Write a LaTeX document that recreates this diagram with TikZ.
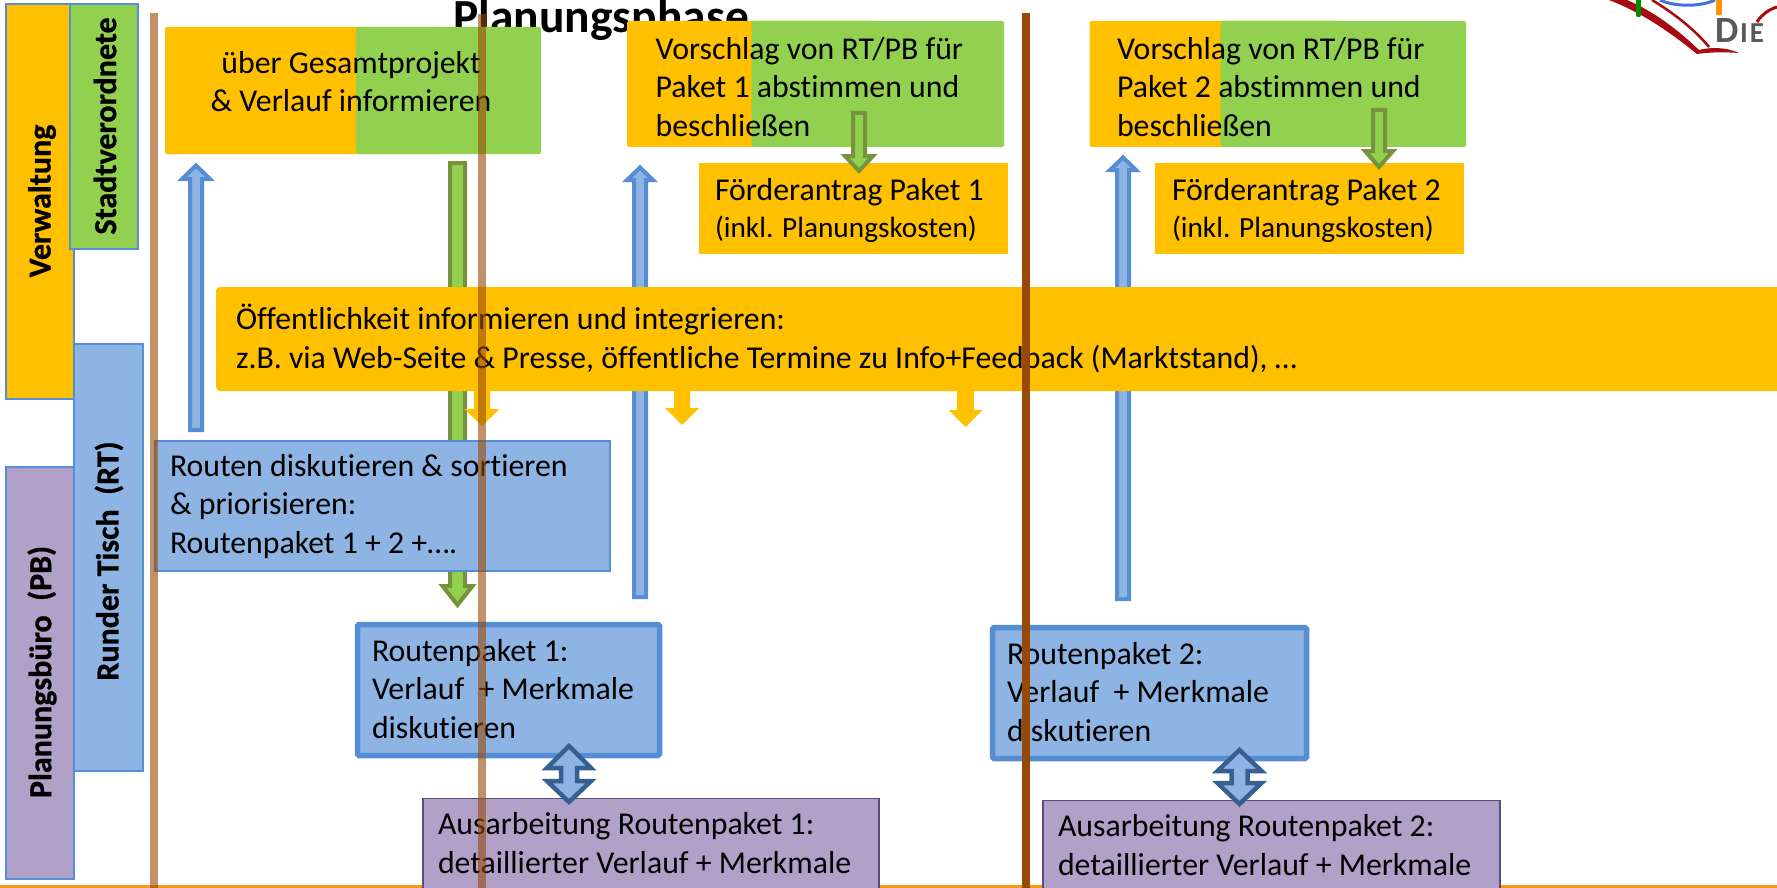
\documentclass[tikz,border=0pt]{standalone}
\usepackage{fontspec}
\setmainfont{Carlito}[Ligatures=NoCommon]
\newfontfamily\sidefont{Carlito}[Ligatures=NoCommon,UprightFont=*-Bold,FakeBold=0.8]
\definecolor{cOrange}{HTML}{FFC000}
\definecolor{cGreen}{HTML}{92D050}
\definecolor{cOlive}{HTML}{76923C}
\definecolor{cBlue}{HTML}{8EB4E3}
\definecolor{cBlueEdge}{HTML}{558ED5}
\definecolor{cNavy}{HTML}{376092}
\definecolor{cPurple}{HTML}{B1A0C7}
\definecolor{cPurpleEdge}{HTML}{604A7B}
\definecolor{cBrown}{HTML}{984807}
\definecolor{cBase}{HTML}{F79A12}
\definecolor{cLogoRed}{HTML}{A80A12}
\definecolor{cLogoGray}{HTML}{595959}
\newcommand{\blockarrow}[8]{% name style xc ytail ybase ytip shaft head
  \coordinate (#1-tail) at (#3,#4);
  \coordinate (#1-tip) at (#3,#6);
  \draw[#2] (#3-#7,#4) -- (#3-#7,#5) -- (#3-#8,#5) -- (#1-tip) -- (#3+#8,#5) -- (#3+#7,#5) -- (#3+#7,#4) -- cycle;}
\newcommand{\twinarrow}[6]{% name xc ytop ybase1 ybase2 ybottom
  \coordinate (#1-top) at (#2,#3);
  \coordinate (#1-bottom) at (#2,#6);
  \draw[arrowNavy] (#1-top) -- (#2+22,#4) -- (#2+8,#4) -- (#2+8,#5) -- (#2+22,#5) -- (#1-bottom) -- (#2-22,#5) -- (#2-8,#5) -- (#2-8,#4) -- (#2-22,#4) -- cycle;}
\tikzset{
  x=1pt,y=-1pt,
  plainbox/.style={anchor=north west,inner sep=0pt,outer sep=0pt,rounded corners=1.5pt},
  sidebar/.style={plainbox,rounded corners=0pt,draw=cBlueEdge,line width=1.6pt},
  orangebox/.style={plainbox,fill=cOrange},
  greenbox/.style={plainbox,fill=cGreen},
  bluebox/.style={plainbox,rounded corners=0pt,fill=cBlue,draw=cBlueEdge,line width=1.8pt},
  bluethick/.style={plainbox,fill=cBlue,draw=cBlueEdge,line width=5.5pt},
  purplebox/.style={plainbox,rounded corners=0pt,fill=cPurple,draw=cPurpleEdge,line width=1.4pt},
  txt/.style={anchor=base west,inner sep=0pt,outer sep=0pt,font=\fontsize{31.8}{38.3}\selectfont},
  small/.style={anchor=base west,inner sep=0pt,outer sep=0pt,font=\fontsize{29.3}{34}\selectfont},
  sidetxt/.style={inner sep=0pt,rotate=90,font=\fontsize{32}{38}\selectfont\sidefont},
  arrowBlue/.style={fill=cBlue,draw=cBlueEdge,line width=4pt,miter limit=10},
  arrowGreen/.style={fill=cGreen,draw=cOlive,line width=4pt,miter limit=10},
  arrowOrange/.style={fill=cOrange,draw=none},
  arrowNavy/.style={fill=cBlue,draw=cNavy,line width=4.5pt,miter limit=10},
  softline/.style={draw=cBrown,opacity=0.6,line width=7.5pt},
  hardline/.style={draw=cBrown,line width=7.5pt},
}
\begin{document}
\begin{tikzpicture}
\useasboundingbox (0,0) rectangle (1777,888);
\clip (0,0) rectangle (1777,888);
\fill[white] (0,0) rectangle (1777,888);
% logo
\fill[cLogoRed] (1609,0) .. controls (1645,14) and (1672,34) .. (1697,54) .. controls (1710,52) and (1726,52) .. (1739,53) .. controls (1726,47) and (1710,47) .. (1699,50) .. controls (1678,30) and (1655,12) .. (1627,0) -- cycle;
\draw[cLogoRed,line width=2.5pt] (1652,0) .. controls (1675,14) and (1695,30) .. (1709,47);
\draw[cLogoRed,line width=3pt] (1757,22) .. controls (1762,14) and (1770,9) .. (1777,7);
\draw[cBlueEdge!80!blue,line width=3pt] (1660,0) .. controls (1675,7) and (1700,7) .. (1715,0);
\fill[green!55!black,rounded corners=2pt] (1636,-5) rectangle (1641,17);
\fill[orange!85!yellow] (1716,-5) rectangle (1722,15);
\node[anchor=base west,inner sep=0pt,text=cLogoGray,font=\fontsize{37}{37}\selectfont\bfseries] (logotext) at (1715,43) {D\kern1.5pt\fontsize{29}{29}\selectfont I\kern2pt E};
% title
\node[anchor=base,inner sep=0pt,font=\fontsize{47.5}{47.5}\selectfont\bfseries] (title) at (601,33) {Planungsphase};
% base line
\coordinate (baseL) at (0,886.5);
\coordinate (baseR) at (1777,886.5);
\draw[cBase,line width=3.5pt] (baseL) -- (baseR);
% sidebars
\node[sidebar,fill=cPurple,minimum width=68pt,minimum height=412pt] (sPB) at (6,467) {};
\node[sidebar,fill=cOrange,minimum width=68pt,minimum height=395pt] (sVW) at (6,4) {};
\node[sidebar,fill=cBlue,minimum width=69pt,minimum height=427pt] (sRT) at (74,344) {};
\node[sidebar,fill=cGreen,minimum width=68pt,minimum height=245pt] (sSV) at (70,4) {};
\node[sidetxt] (tVW) at (42,201) {Verwaltung};
\node[sidetxt] (tSV) at (105,126) {Stadtverordnete};
\node[sidetxt] (tRT) at (109,561) {Runder Tisch\ \ (RT)};
\node[sidetxt] (tPB) at (42,672) {Planungsbüro\ \ (PB)};
% arrows behind boxes
\blockarrow{aBlue1}{arrowBlue}{196}{430}{179}{165.5}{6}{14}
\blockarrow{aGreen1}{arrowGreen}{457.5}{163}{586}{605}{7.5}{15}
\blockarrow{aBlue2}{arrowBlue}{640}{597}{180}{167.5}{6}{13}
\blockarrow{aBlue3}{arrowBlue}{1123}{599}{170}{157.5}{6}{13}
% top boxes
\node[orangebox,minimum width=276pt,minimum height=127pt] (infoO) at (165,27) {};
\node[greenbox,minimum width=185pt,minimum height=127pt] (infoG) at (356,27) {};
\node[anchor=base,align=center,inner sep=0pt,font=\fontsize{31.8}{38.3}\selectfont] (infoT) at (351,112) {über Gesamtprojekt\\\& Verlauf informieren};
\node[orangebox,minimum width=250pt,minimum height=126pt] (v1O) at (627,21) {};
\node[greenbox,minimum width=252.5pt,minimum height=126pt] (v1G) at (751.5,21) {};
\node[txt,align=left] (v1T) at (655.6,136) {Vorschlag von RT/PB für\\Paket 1 abstimmen und\\beschließen};
\node[orangebox,minimum width=250pt,minimum height=126pt] (v2O) at (1089.5,21) {};
\node[greenbox,minimum width=245.5pt,minimum height=126pt] (v2G) at (1220.5,21) {};
\node[txt,align=left] (v2T) at (1117,136) {Vorschlag von RT/PB für\\Paket 2 abstimmen und\\beschließen};
\node[orangebox,rounded corners=0pt,minimum width=309pt,minimum height=91pt] (f1) at (699,163) {};
\node[orangebox,rounded corners=0pt,minimum width=309pt,minimum height=91pt] (f2) at (1155,163) {};
\node[txt] (f1a) at (715,200) {Förderantrag Paket 1};
\node[small] (f1b) at (715,237) {(inkl. Planungskosten)};
\node[txt] (f2a) at (1172,200) {Förderantrag Paket 2};
\node[small] (f2b) at (1172,237) {(inkl. Planungskosten)};
\blockarrow{aGreen2}{arrowGreen}{859}{113}{156}{171}{6}{14}
\blockarrow{aGreen3}{arrowGreen}{1379}{110}{151}{167}{6}{14}
% public box
\node[plainbox,fill=cOrange,rounded corners=4pt,minimum width=1600pt,minimum height=104pt] (pub) at (216,287) {};
\node[txt,align=left] (pubT) at (236,368) {Öffentlichkeit informieren und integrieren:\\z.B. via Web-Seite \& Presse, öffentliche Termine zu Info+Feedback (Marktstand), …};
\blockarrow{aOr1}{arrowOrange}{482}{390}{409}{426}{8}{17.5}
\blockarrow{aOr2}{arrowOrange}{682}{390}{408}{425}{8}{17}
\blockarrow{aOr3}{arrowOrange}{965.5}{390}{410}{427}{8.5}{17}
% routes
\node[bluebox,minimum width=455pt,minimum height=130pt] (routes) at (155,441) {};
\node[txt,align=left] (routesT) at (170,553) {Routen diskutieren \& sortieren\\\& priorisieren:\\Routenpaket 1 + 2 +….};
\node[bluethick,minimum width=302pt,minimum height=131pt] (rp1) at (357.5,624.5) {};
\node[txt,align=left] (rp1T) at (372,738) {Routenpaket 1:\\Verlauf\ \ + Merkmale\\diskutieren};
\node[bluethick,minimum width=314pt,minimum height=131pt] (rp2) at (992.5,627.5) {};
\node[txt,align=left] (rp2T) at (1007,741) {Routenpaket 2:\\Verlauf\ \ + Merkmale\\diskutieren};
\node[purplebox,minimum width=456pt,minimum height=120pt] (aa1) at (423,798.5) {};
\node[txt,align=left] (aa1T) at (438,873) {Ausarbeitung Routenpaket 1:\\detaillierter Verlauf + Merkmale};
\node[purplebox,minimum width=457pt,minimum height=120pt] (aa2) at (1043,800.5) {};
\node[txt,align=left] (aa2T) at (1058,875) {Ausarbeitung Routenpaket 2:\\detaillierter Verlauf + Merkmale};
\twinarrow{d1}{569}{746}{768}{781}{802}
\twinarrow{d2}{1239.5}{750}{771}{783}{804}
% vertical lines
\coordinate (l1t) at (154,13); \coordinate (l1b) at (154,888);
\coordinate (l2t) at (482,14); \coordinate (l2b) at (482,888);
\coordinate (l3t) at (1026,13); \coordinate (l3b) at (1026,888);
\draw[softline] (l1t) -- (l1b);
\draw[softline] (l2t) -- (l2b);
\draw[hardline] (l3t) -- (l3b);
\end{tikzpicture}
\end{document}
